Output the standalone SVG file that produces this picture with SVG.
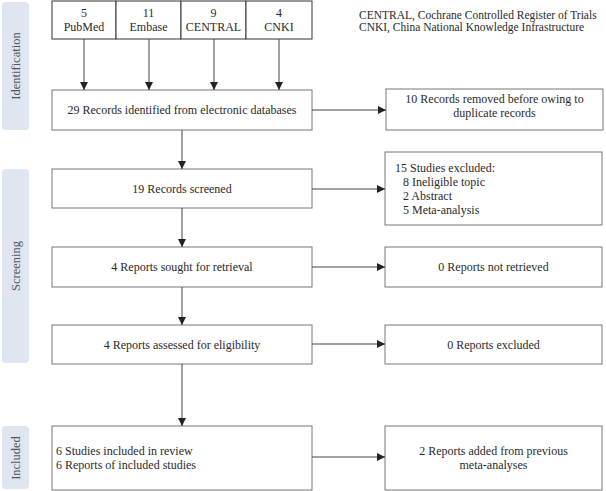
<svg xmlns="http://www.w3.org/2000/svg" width="606" height="491" viewBox="0 0 606 491">
<defs>
<marker id="ah" viewBox="0 0 10 10" refX="10" refY="5" markerWidth="8" markerHeight="8" markerUnits="userSpaceOnUse" orient="auto">
<path d="M0,0 L10,5 L0,10 Z" fill="#222"/>
</marker>
<style>
.box{fill:#fff;stroke:#777;stroke-width:1}
.db{fill:#fff;stroke:#333;stroke-width:1}
.side{fill:#dfe6f1;stroke:none}
.t{font-family:"Liberation Serif","Times New Roman",serif;font-size:12px;fill:#2a2a2a}
.lg{font-size:11.5px}
.c{text-anchor:middle}
.sl{font-family:"Liberation Serif","Times New Roman",serif;font-size:12.5px;fill:#555;text-anchor:middle}
.ln{stroke:#444;stroke-width:1;fill:none;marker-end:url(#ah)}
</style>
</defs>
<rect width="606" height="491" fill="#fff"/>
<g id="side-identification"><rect class="side" x="2" y="2" width="27" height="128" rx="4"/><text class="sl" transform="translate(19.5,66) rotate(-90)">Identification</text></g>
<g id="side-screening"><rect class="side" x="2" y="169" width="27" height="194" rx="4"/><text class="sl" transform="translate(19.5,266) rotate(-90)">Screening</text></g>
<g id="side-included"><rect class="side" x="2" y="426" width="27" height="63" rx="4"/><text class="sl" transform="translate(19.5,458) rotate(-90)">Included</text></g>

<g id="db-pubmed"><rect class="db" x="52" y="1" width="64" height="38"/><text class="t c" x="84" y="17">5</text><text class="t c" x="84" y="31">PubMed</text></g>
<g id="db-embase"><rect class="db" x="116" y="1" width="65" height="38"/><text class="t c" x="148.5" y="17">11</text><text class="t c" x="148.5" y="31">Embase</text></g>
<g id="db-central"><rect class="db" x="181" y="1" width="65" height="38"/><text class="t c" x="213.5" y="17">9</text><text class="t c" x="213.5" y="31">CENTRAL</text></g>
<g id="db-cnki"><rect class="db" x="246" y="1" width="66" height="38"/><text class="t c" x="279" y="17">4</text><text class="t c" x="279" y="31">CNKI</text></g>

<g id="legend"><text class="t lg" x="359" y="19">CENTRAL, Cochrane Controlled Register of Trials</text><text class="t lg" x="359" y="31">CNKI, China National Knowledge Infrastructure</text></g>

<g id="identified"><rect class="box" x="52" y="90" width="260" height="40"/><text class="t c" x="182" y="114">29 Records identified from electronic databases</text></g>
<g id="removed"><rect class="box" x="386" y="89" width="217" height="41"/><text class="t c" x="494.5" y="103">10 Records removed before owing to</text><text class="t c" x="494.5" y="117">duplicate records</text></g>

<g id="screened"><rect class="box" x="52" y="169" width="260" height="39"/><text class="t c" x="182" y="193">19 Records screened</text></g>
<g id="excluded"><rect class="box" x="385" y="152" width="217" height="73"/><text class="t" x="395" y="172">15 Studies excluded:</text><text class="t" x="403" y="186">8 Ineligible topic</text><text class="t" x="403" y="200">2 Abstract</text><text class="t" x="403" y="214">5 Meta-analysis</text></g>

<g id="sought"><rect class="box" x="52" y="247" width="260" height="40"/><text class="t c" x="182" y="271">4 Reports sought for retrieval</text></g>
<g id="notretrieved"><rect class="box" x="385" y="247" width="217" height="40"/><text class="t c" x="493.5" y="271">0 Reports not retrieved</text></g>

<g id="assessed"><rect class="box" x="52" y="325" width="260" height="39"/><text class="t c" x="182" y="349">4 Reports assessed for eligibility</text></g>
<g id="reportsexcluded"><rect class="box" x="385" y="325" width="217" height="39"/><text class="t c" x="493.5" y="349">0 Reports excluded</text></g>

<g id="included"><rect class="box" x="52" y="426" width="260" height="64"/><text class="t" x="56" y="455">6 Studies included in review</text><text class="t" x="56" y="469">6 Reports of included studies</text></g>
<g id="added"><rect class="box" x="385" y="426" width="217" height="64"/><text class="t c" x="493.5" y="455">2 Reports added from previous</text><text class="t c" x="493.5" y="469">meta-analyses</text></g>

<g id="connectors">
<line class="ln" x1="84" y1="39" x2="84" y2="90"/>
<line class="ln" x1="149" y1="39" x2="149" y2="90"/>
<line class="ln" x1="214" y1="39" x2="214" y2="90"/>
<line class="ln" x1="279" y1="39" x2="279" y2="90"/>
<line class="ln" x1="312" y1="110" x2="386" y2="110"/>
<line class="ln" x1="182" y1="130" x2="182" y2="169"/>
<line class="ln" x1="312" y1="189" x2="385" y2="189"/>
<line class="ln" x1="182" y1="208" x2="182" y2="247"/>
<line class="ln" x1="312" y1="267" x2="385" y2="267"/>
<line class="ln" x1="182" y1="287" x2="182" y2="325"/>
<line class="ln" x1="312" y1="344" x2="385" y2="344"/>
<line class="ln" x1="182" y1="364" x2="182" y2="426"/>
<line class="ln" x1="312" y1="457" x2="385" y2="457"/>
</g>
</svg>
